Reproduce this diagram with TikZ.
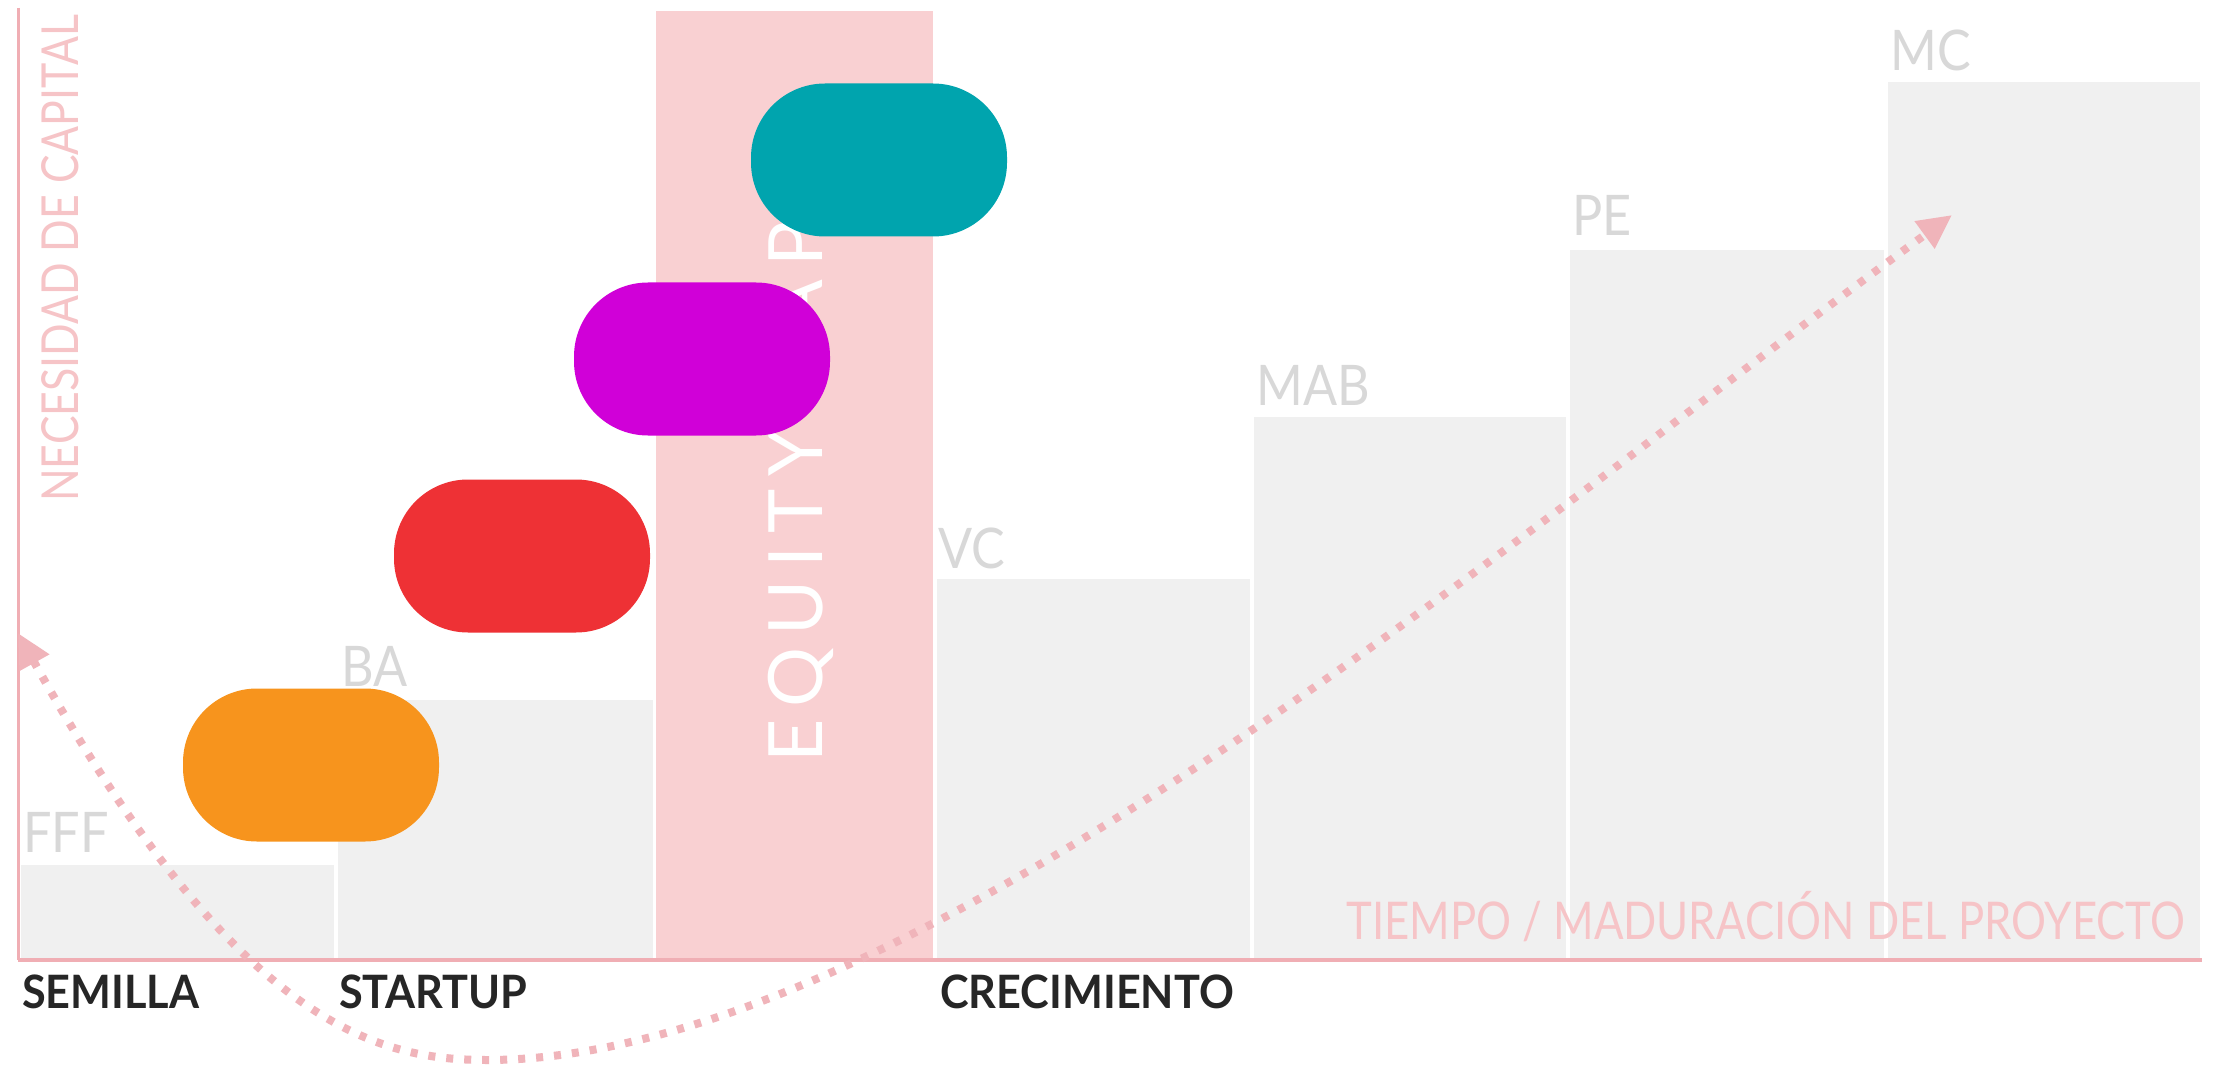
\documentclass[tikz,border=0pt]{standalone}
\usepackage{fontspec}
\setmainfont{Lato}
\newfontfamily\condfont[FakeStretch=0.9]{Lato}
\newfontfamily\axfont[FakeStretch=0.84]{Lato}
\newfontfamily\boldcond[FakeStretch=0.94]{Lato Bold}
\newfontfamily\eqfont[LetterSpace=17]{Lato}
\usetikzlibrary{arrows.meta}
\definecolor{barg}{HTML}{F0F0F0}
\definecolor{bandp}{HTML}{F9D0D2}
\definecolor{labg}{HTML}{D8D8D8}
\definecolor{axp}{HTML}{F0AEB4}
\definecolor{txtp}{HTML}{F6C4C7}
\definecolor{dotp}{HTML}{F0B4BA}
\definecolor{cOrange}{HTML}{F7941D}
\definecolor{cRed}{HTML}{EE3135}
\definecolor{cMag}{HTML}{D000D8}
\definecolor{cTeal}{HTML}{00A4AE}
\definecolor{darkt}{HTML}{262626}
\tikzset{
  pill/.style={rounded corners=74pt, minimum width=256pt, minimum height=153pt, inner sep=0pt, draw=none},
  barlabel/.style={anchor=base west, inner sep=0pt, text=labg, font=\condfont\fontsize{56}{60}\selectfont},
  stagelabel/.style={anchor=base west, inner sep=0pt, text=darkt, font=\boldcond\fontsize{46}{50}\selectfont},
  axislabel/.style={inner sep=0pt, text=txtp, font=\axfont\fontsize{52}{56}\selectfont},
  dotline/.style={draw=dotp, line width=8pt, dash pattern=on 7pt off 11pt},
  axisline/.style={draw=axp}
}
\begin{document}
\begin{tikzpicture}[x=1pt,y=-1pt]
\useasboundingbox (0,0) rectangle (2216,1067);
\fill[white] (0,0) rectangle (2216,1067);
% bars
\fill[barg] (21,865) rectangle (334,959);
\fill[barg] (338,700) rectangle (653,959);
\fill[bandp] (656,11) rectangle (933,959);
\fill[barg] (937,579) rectangle (1250,959);
\fill[barg] (1254,417) rectangle (1566,959);
\fill[barg] (1570,250) rectangle (1884,959);
\fill[barg] (1888,82) rectangle (2200,959);
% bar labels
\node[barlabel] (fff) at (23,852) {FFF};
\node[barlabel] (ba) at (341,686) {BA};
\node[barlabel] (vc) at (938,568) {VC};
\node[barlabel] (mab) at (1256,405) {MAB};
\node[barlabel] (pe) at (1572,236) {PE};
\node[barlabel] (mc) at (1890,71) {MC};
% equity gap
\node[rotate=90, anchor=base west, inner sep=0pt, text=white, font=\eqfont\fontsize{75}{80}\selectfont] (eq) at (822,763) {EQUITY GAP};
% pills
\node[pill, fill=cOrange] (p1) at (311,765) {};
\node[pill, fill=cRed] (p2) at (522,556) {};
\node[pill, fill=cMag] (p3) at (702,359) {};
\node[pill, fill=cTeal] (p4) at (879,160) {};
% axes
\coordinate (ytop) at (18,8);
\coordinate (orig) at (18,960);
\coordinate (xend) at (2202,960);
\draw[axisline, line width=3pt] (ytop) -- (orig);
\draw[axisline, line width=4pt] (orig) -- (xend);
% axis labels
\node[axislabel, rotate=90, anchor=base west, font=\axfont\fontsize{51}{55}\selectfont] (ylab) at (78,502) {NECESIDAD DE CAPITAL};
\node[axislabel, anchor=base east] (xlab) at (2185,939) {TIEMPO / MADURACIÓN DEL PROYECTO};
% stage labels
\node[stagelabel] (s1) at (22,1008) {SEMILLA};
\node[stagelabel] (s2) at (339,1008) {STARTUP};
\node[stagelabel] (s3) at (940,1008) {CRECIMIENTO};
% dotted curve
\coordinate (arrL) at (18,633);
\coordinate (bot) at (487,1060);
\coordinate (arrR) at (1952,215);
\draw[dotline, {Triangle[length=34pt,width=32pt]}-{Triangle[length=34pt,width=32pt]}]
  (arrL) .. controls (238,1029) and (380,1060) .. (bot)
  .. controls (900,1060) and (1500,545) .. (arrR);
\end{tikzpicture}
\end{document}
